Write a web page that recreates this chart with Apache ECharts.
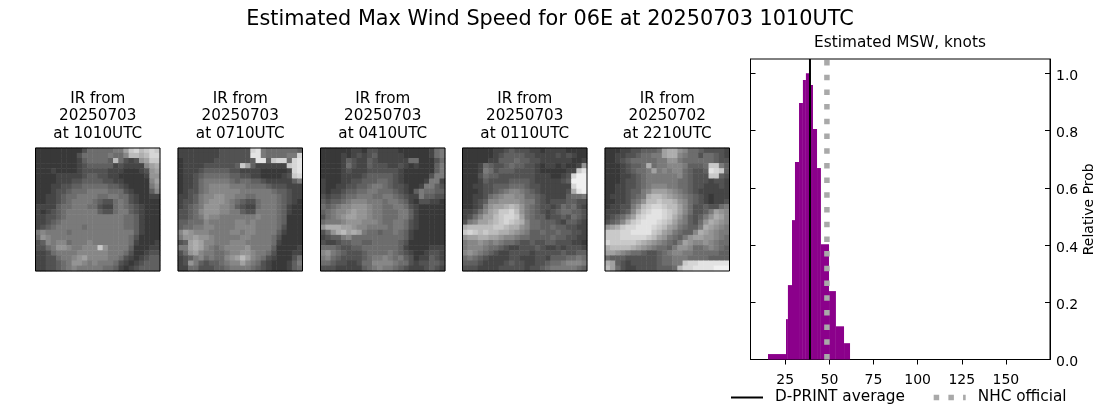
<!DOCTYPE html>
<html>
<head>
<meta charset="utf-8">
<style>
  html, body { margin: 0; padding: 0; background: #fff; }
  #chart { width: 1100px; height: 409px; }
</style>
<script src="https://cdn.jsdelivr.net/npm/echarts@6/dist/echarts.min.js"></script>
</head>
<body>
<div id="chart"></div>
<script>
var chartTitle = 'Estimated Max Wind Speed for 06E at 20250703 1010UTC';
var histTitle = 'Estimated MSW, knots';

// histogram bins, knots
var binEdges = [15.2, 25.4, 26.5, 28.8, 30.5, 32.8, 35.0, 36.7, 39.0, 40.7, 43.0, 45.2, 49.8, 53.7, 58.3, 61.7];
var binProbs = [0.019, 0.141, 0.26, 0.487, 0.69, 0.896, 0.977, 1.0, 0.959, 0.805, 0.669, 0.403, 0.239, 0.116, 0.057];
var dprintAverage = 39.0;
var nhcOfficial = 48.6;
var xTicks = [25, 50, 75, 100, 125, 150];
var yTicks = [0, 0.2, 0.4, 0.6, 0.8, 1.0];

var irDates = ['20250703', '20250703', '20250703', '20250703', '20250702'];
var irTimes = ['1010UTC', '0710UTC', '0410UTC', '0110UTC', '2210UTC'];

// IR thumbnails, brightness, 0 dark - f bright
var irFrame1 = [
  '111111 111355 555669 cdbcdc', '111111 113555 556557 bbabdd', '111111 112455 554b53 2389cc',
  '111111 112344 444232 22279a', '111211 112333 332221 112389', '111122 222344 332211 111288',
  '111122 233444 433221 111179', '111223 344555 554432 111168', '111233 455566 665553 211147',
  '112234 556666 556655 321122', '112234 566665 433565 321111', '222245 566655 322565 432111',
  '212345 666666 433566 432111', '223345 666666 666665 542111', '223456 666666 666665 542111',
  '234566 666566 666665 542111', '676666 566666 666666 642111', '587666 666666 666666 531111',
  '347677 566676 666666 521112', '335688 766777 c86666 411122', '223566 667777 776665 311233',
  '223356 678977 776653 212344', '223345 688767 666532 123444', '223345 676666 655421 234444'
];
var irFrame2 = [
  '222222 223333 33de65 555554', '222222 223333 33ee65 55566d', '122222 233333 334ee4 cdd5de',
  '122223 333334 c94222 222cde', '122234 444433 222211 1112de', '122345 555544 332211 1123cd',
  '122356 666654 554432 222246', '122356 777766 655554 333222', '123356 777777 666666 544322',
  '223467 788776 655666 654322', '233467 888765 433566 654321', '234568 887764 322566 654211',
  '334578 887766 433666 654211', '334568 776666 666766 654111', '445557 666667 767666 654111',
  '455667 766667 777666 653111', '798777 666677 677666 642111', '688988 766666 776666 531111',
  '349a97 766677 766666 521111', '669a97 656777 786666 411112', '358976 655677 887665 311122',
  '234675 655789 b97653 211135', '238643 445677 976532 111246', '225533 344566 665432 111245'
];
var irFrame3 = [
  '111111 221332 222111 111256', '111121 232342 222211 111256', '111124 322432 222225 511135',
  '111125 322433 322321 211146', '111123 222333 333211 111146', '111122 223444 443211 111366',
  '211122 334445 543211 112662', '211223 344566 543321 126643', '212234 455665 554321 465544',
  '323345 566655 665432 264433', '434456 777666 566542 133221', '545677 888766 556653 211111',
  '456778 988766 555664 211111', '356789 988766 555664 211111', '566678 887776 556653 211111',
  '8aaa99 877666 656653 211111', '358ab9 a96554 556542 111111', '234467 555555 555542 111111',
  '322344 554455 555431 111111', '555433 445555 555421 111222', '786543 334555 565432 112332',
  '675433 334566 765643 122432', '554332 235577 776553 233443', '333222 224567 665432 223432'
];
var irFrame4 = [
  '111111 223433 322122 221111', '111111 234444 332222 323211', '111112 244454 433222 222112',
  '111254 334544 332122 121128', '111265 344433 332111 1122ce', '111354 433333 332221 123dff',
  '111243 333444 432222 234fff', '112233 444555 433222 222dff', '111233 456776 543222 223aef',
  '112235 678877 554322 224556', '112347 788887 664323 334433', '112368 99aba8 654332 354532',
  '223579 accdb8 654323 455443', '235799 bcddc9 654423 343543', '36799a bcdcba 755444 324432',
  'abbbbb ccbaa8 755445 443322', 'cdcbcb baa987 644544 544332', '899aa9 987765 544445 443322',
  '677876 765543 343344 333221', '677765 543223 334322 323332', '787654 322333 323333 343344',
  '565432 222332 223324 445565', '444322 223433 223345 567776', '333222 233333 233456 666654'
];
var irFrame5 = [
  '111223 344459 aa8755 433332', '112233 455669 aa7655 355432', '112345 555566 886555 555433',
  '111234 45a566 777644 45cc64', '111234 556967 677543 34edc4', '111223 456666 667543 33cc43',
  '111233 456666 665543 332332', '112233 456777 665543 322232', '112234 467999 876543 222222',
  '122234 56abba 987654 321222', '112235 68bbcb ba8754 321223', '122336 8bcddc bb9753 343356',
  '222347 acdeed cb9753 346987', '234579 cdeeed ca8643 468a97', '3457ac deeedc b97643 58a987',
  '89acdd eeedcb 986544 6a9876', 'cccdde eeecb9 865447 a98766', 'cccddd ddcb98 654689 988765',
  'dccccc ba9876 546987 787655', 'abbbba 987655 468875 567654', '998765 543345 677665 555544',
  '544433 333345 566655 554444', 'a94323 333345 566cdd eeeeee', 'b95322 333344 45bdde eeefff'
];
var irFrames = [irFrame1, irFrame2, irFrame3, irFrame4, irFrame5];

var font = 'DejaVu Sans';
var imgLefts = [35.5, 178, 320.5, 462.5, 605];
var imgWidth = 124.5, imgTop = 148, imgHeight = 123;
var histLeft = 750.5, histTop = 59, histWidth = 299.5, histHeight = 300.5;

var grids = [], xAxes = [], yAxes = [], series = [], titles = [], frames = [];
var cellIdx = [];
for (var c = 0; c < 24; c++) cellIdx.push(c);

titles.push({
  text: chartTitle, left: 545, top: 4, textAlign: 'center',
  textStyle: { fontFamily: font, fontSize: 20.8, fontWeight: 'normal', color: '#000' }
});
titles.push({
  text: histTitle, left: 895, top: 31, textAlign: 'center',
  textStyle: { fontFamily: font, fontSize: 15.3, fontWeight: 'normal', color: '#000' }
});

irFrames.forEach(function (frame, i) {
  var cells = [];
  frame.forEach(function (row, y) {
    row.replace(/ /g, '').split('').forEach(function (ch, x) {
      cells.push([x, y, parseInt(ch, 16)]);
    });
  });
  grids.push({ left: imgLefts[i], top: imgTop, width: imgWidth, height: imgHeight });
  xAxes.push({ gridIndex: i, type: 'category', data: cellIdx, show: false });
  yAxes.push({ gridIndex: i, type: 'category', data: cellIdx, inverse: true, show: false });
  series.push({
    type: 'heatmap', xAxisIndex: i, yAxisIndex: i, data: cells,
    itemStyle: { borderWidth: 0 }, emphasis: { disabled: true }
  });
  titles.push({
    text: 'IR from\n' + irDates[i] + '\nat ' + irTimes[i],
    left: imgLefts[i] + imgWidth / 2 - 5, top: 85, textAlign: 'center',
    textStyle: { fontFamily: font, fontSize: 15.2, lineHeight: 17.5, fontWeight: 'normal', color: '#000' }
  });
  frames.push({
    type: 'rect', z: 100, silent: true,
    shape: { x: imgLefts[i], y: imgTop, width: imgWidth, height: imgHeight },
    style: { fill: null, stroke: '#000', lineWidth: 1 }
  });
});

// histogram panel
var h = irFrames.length;
grids.push({
  left: histLeft, top: histTop, width: histWidth, height: histHeight,
  show: true, borderColor: '#000', borderWidth: 1, backgroundColor: '#fff'
});
xAxes.push({
  gridIndex: h, type: 'value', min: 5.3, max: 175,
  splitLine: { show: false },
  axisLine: { show: true, onZero: false, lineStyle: { color: '#000', width: 1 } },
  axisTick: { show: true, length: 5, customValues: xTicks, lineStyle: { color: '#000' } },
  axisLabel: { customValues: xTicks, fontFamily: font, fontSize: 14, color: '#000', margin: 14 }
});
yAxes.push({
  gridIndex: h, type: 'value', position: 'right', min: 0, max: 1.05,
  name: 'Relative Prob', nameLocation: 'middle', nameRotate: 90, nameGap: 29,
  nameTextStyle: { fontFamily: font, fontSize: 14, color: '#000' },
  splitLine: { show: false },
  axisLine: { show: true, lineStyle: { color: '#000', width: 1 } },
  axisTick: { show: true, inside: true, length: 5, customValues: yTicks, lineStyle: { color: '#000' } },
  axisLabel: {
    customValues: yTicks, color: '#000', margin: 6,
    rich: { tick: { fontFamily: font, fontSize: 14, color: '#000', padding: [6, 0, 0, 0] } },
    formatter: function (v) { return '{tick|' + v.toFixed(1) + '}'; }
  }
});
yAxes.push({
  gridIndex: h, type: 'value', position: 'left', min: 0, max: 1.05,
  splitLine: { show: false },
  axisLine: { show: true, lineStyle: { color: '#000', width: 1 } },
  axisTick: { show: true, inside: true, length: 5, customValues: yTicks, lineStyle: { color: '#000' } },
  axisLabel: { show: false }
});

var binData = binProbs.map(function (p, i) { return [binEdges[i], binEdges[i + 1], p]; });
series.push({
  type: 'custom', xAxisIndex: h, yAxisIndex: h, data: binData,
  encode: { x: [0, 1], y: 2 }, silent: true,
  renderItem: function (params, api) {
    var a = api.coord([api.value(0), api.value(2)]);
    var b = api.coord([api.value(1), 0]);
    return {
      type: 'rect',
      shape: { x: a[0], y: a[1], width: b[0] - a[0], height: b[1] - a[1] },
      style: { fill: '#8b008b' }
    };
  }
});
series.push({
  name: 'D-PRINT average', type: 'line', xAxisIndex: h, yAxisIndex: h, z: 5,
  data: [[dprintAverage, 0], [dprintAverage, 1.05]],
  showSymbol: false, symbol: 'none', lineStyle: { color: '#000', width: 2 },
  itemStyle: { color: '#000' }
});
series.push({
  name: 'NHC official', type: 'line', xAxisIndex: h, yAxisIndex: h, z: 6,
  data: [[nhcOfficial, 0], [nhcOfficial, 1.05]],
  showSymbol: false, symbol: 'none',
  lineStyle: { color: '#a9a9a9', width: 5.5, type: [5.5, 9.2], cap: 'butt' },
  itemStyle: { color: '#a9a9a9' }
});

var chart = echarts.init(document.getElementById('chart'), null, { renderer: 'canvas' });
chart.setOption({
  animation: false,
  backgroundColor: '#fff',
  title: titles,
  grid: grids,
  xAxis: xAxes,
  yAxis: yAxes,
  visualMap: {
    show: false, min: 0, max: 15, seriesIndex: [0, 1, 2, 3, 4],
    inRange: { color: ['#2b2b2b', '#f0f0f0'] }
  },
  legend: {
    data: [
      { name: 'D-PRINT average', itemStyle: { opacity: 0 }, lineStyle: { color: '#000', width: 2 } },
      { name: 'NHC official', itemStyle: { opacity: 0 }, lineStyle: { color: '#a9a9a9', width: 5.5, type: [5.5, 9.2] } }
    ],
    left: 725, top: 385, itemWidth: 32, itemHeight: 14, itemGap: 26,
    textStyle: { fontFamily: font, fontSize: 15.3, color: '#000', padding: [0, 0, 0, 7] }
  },
  graphic: frames,
  series: series
});
</script>
</body>
</html>
